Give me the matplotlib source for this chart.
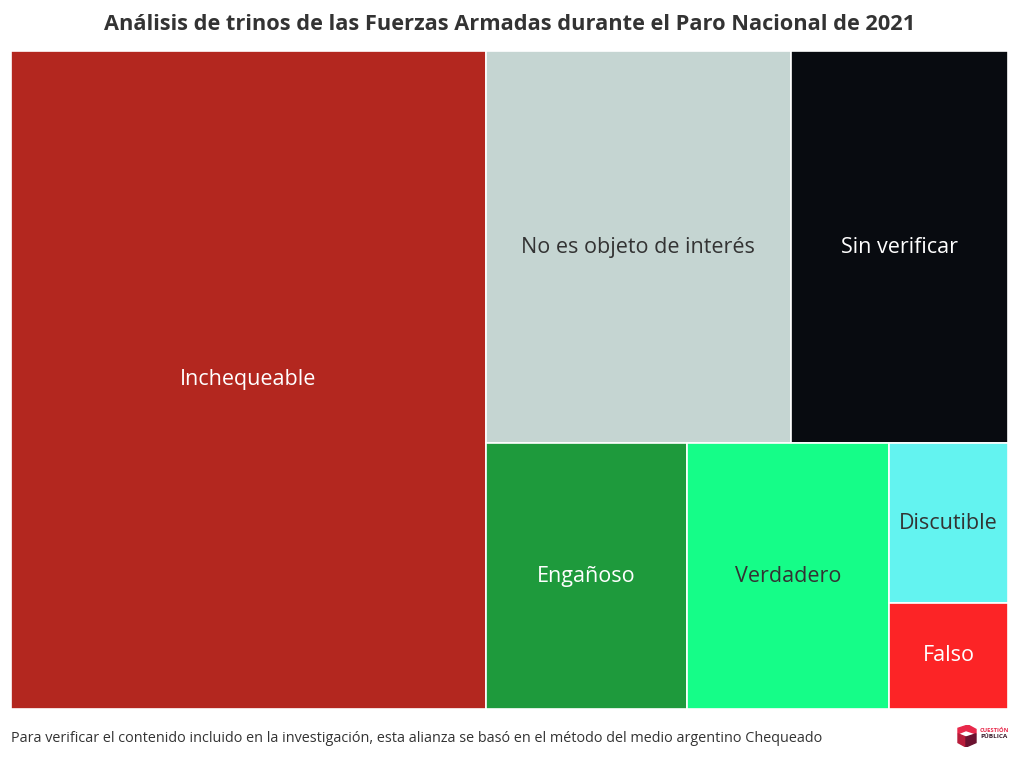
import matplotlib
matplotlib.use("Agg")
import matplotlib.pyplot as plt
from matplotlib.patches import Rectangle, Polygon

plt.rcParams['font.family'] = ['Open Sans', 'DejaVu Sans']

# datos estimados de la imagen (número de trinos por categoría)
categorias = ['Inchequeable', 'No es objeto de interés', 'Sin verificar',
              'Engañoso', 'Verdadero', 'Discutible', 'Falso']
valores = [99, 38, 27, 17, 17, 6, 4]
colores = ['#b3271f', '#c5d5d2', '#080b10', '#1e9a3c', '#15fd88', '#63f3f0', '#fc2426']
color_texto = ['white', '#333333', 'white', 'white', '#333333', '#333333', 'white']

titulo = 'Análisis de trinos de las Fuerzas Armadas durante el Paro Nacional de 2021'
nota = ('Para verificar el contenido incluido en la investigación, esta alianza se basó '
        'en el método del medio argentino Chequeado')


def worst(row, w):
    s = sum(row)
    return max(max(w * w * r / (s * s), (s * s) / (w * w * r)) for r in row)


def layout_row(row, x, y, dx, dy):
    s = sum(row)
    rects = []
    if dx >= dy:
        # columna a la izquierda
        ancho = s / dy
        yy = y
        for r in row:
            h = r / ancho
            rects.append((x, yy, ancho, h))
            yy += h
        return rects, (x + ancho, y, dx - ancho, dy)
    else:
        alto = s / dx
        xx = x
        for r in row:
            w = r / alto
            rects.append((xx, y, w, alto))
            xx += w
        return rects, (x, y + alto, dx, dy - alto)


def squarify(areas, x, y, dx, dy):
    rects = []
    areas = list(areas)
    while areas:
        w = min(dx, dy)
        row = [areas.pop(0)]
        while areas and worst(row + [areas[0]], w) <= worst(row, w):
            row.append(areas.pop(0))
        r, (x, y, dx, dy) = layout_row(row, x, y, dx, dy)
        rects += r
    return rects


W, H = 997.0, 658.0
total = sum(valores)
areas = [v * W * H / total for v in valores]
rects = squarify(areas, 0, 0, W, H)

fig = plt.figure(figsize=(10.2, 7.6), dpi=100)
ax = fig.add_axes([11 / 1020, 1 - 709 / 760, 997 / 1020, 658 / 760])
ax.set_xlim(0, W)
ax.set_ylim(H, 0)
ax.axis('off')

for (x, y, w, h), cat, col, tc in zip(rects, categorias, colores, color_texto):
    ax.add_patch(Rectangle((x, y), w, h, facecolor=col, edgecolor='white', linewidth=1.2))
    ax.text(x + w / 2, y + h / 2, cat, ha='center', va='center', fontsize=15.5, color=tc)

fig.text(0.5, 1 - 25 / 760, titulo, ha='center', va='center', fontsize=15.7,
         fontweight='bold', color='#333333')
fig.text(11 / 1020, 1 - 738 / 760, nota, ha='left', va='center', fontsize=10.4, color='#333333')

# logo aproximado de Cuestión Pública
lax = fig.add_axes([957 / 1020, 1 - 747 / 760, 20 / 1020, 22 / 760])
lax.set_xlim(0, 1)
lax.set_ylim(0, 1)
lax.axis('off')
lax.add_patch(Polygon([[0.05, 0.85], [0.55, 1.0], [0.95, 0.8], [0.95, 0.6], [0.45, 0.75], [0.05, 0.6]],
                      closed=True, color='#e8284a'))
lax.add_patch(Polygon([[0.05, 0.6], [0.45, 0.45], [0.45, 0.0], [0.05, 0.2]], closed=True, color='#b81d3b'))
lax.add_patch(Polygon([[0.45, 0.45], [0.95, 0.6], [0.95, 0.2], [0.45, 0.0]], closed=True, color='#6b1230'))
fig.text(980 / 1020, 1 - 730 / 760, 'CUESTIÓN', fontsize=4.2, fontweight='bold', color='#e8284a',
         ha='left', va='center')
fig.text(980 / 1020, 1 - 737 / 760, 'PÚBLICA', fontsize=4.6, fontweight='bold', color='#3a1a2a',
         ha='left', va='center')

fig.savefig('out.png', dpi=100, facecolor='white')
